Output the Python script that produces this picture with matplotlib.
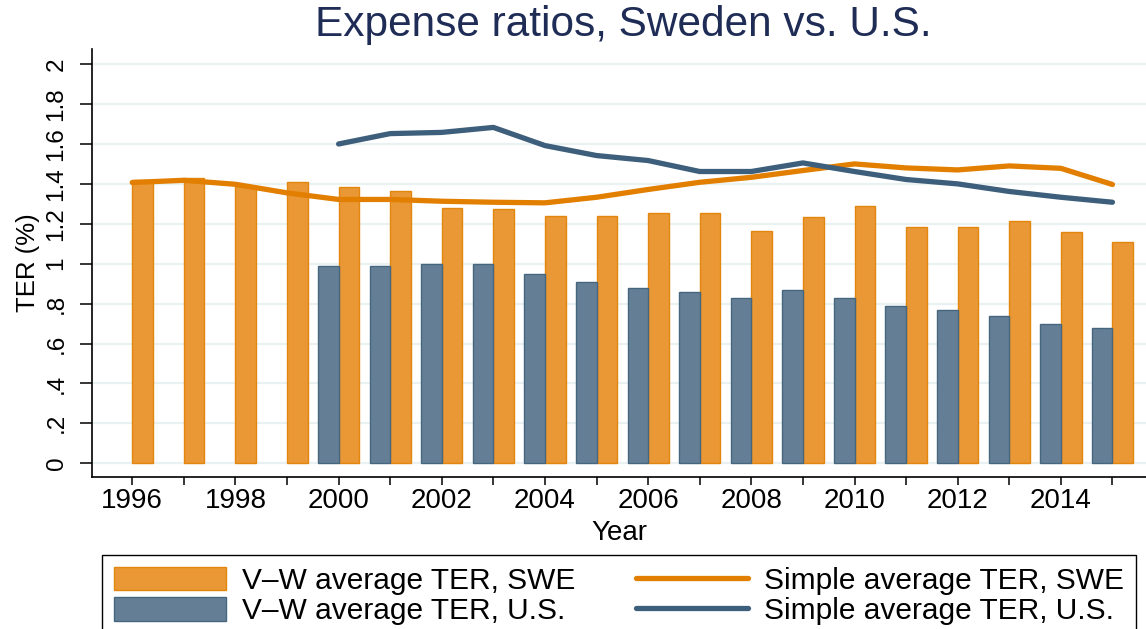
import matplotlib

matplotlib.use("Agg")
import matplotlib.pyplot as plt
import numpy as np

plt.rcParams["font.family"] = ["Liberation Sans", "DejaVu Sans"]

# data
years_swe = list(range(1996, 2016))
years_us = list(range(2000, 2016))
vw_swe = [1.42, 1.43, 1.39, 1.41, 1.385, 1.362, 1.28, 1.272, 1.24, 1.24,
          1.255, 1.255, 1.162, 1.235, 1.288, 1.182, 1.183, 1.215, 1.16, 1.11]
vw_us = [0.99, 0.99, 1.0, 1.0, 0.95, 0.91, 0.88, 0.86, 0.83, 0.87,
         0.83, 0.79, 0.77, 0.74, 0.70, 0.68]
simple_swe = [1.407, 1.418, 1.398, 1.355, 1.322, 1.322, 1.313, 1.308, 1.305,
              1.333, 1.372, 1.408, 1.433, 1.467, 1.50, 1.48, 1.47, 1.49,
              1.478, 1.397]
simple_us = [1.60, 1.652, 1.658, 1.683, 1.592, 1.542, 1.517, 1.462, 1.462,
             1.505, 1.462, 1.422, 1.40, 1.362, 1.333, 1.308]
y_ticks = [0, 0.2, 0.4, 0.6, 0.8, 1.0, 1.2, 1.4, 1.6, 1.8, 2.0]
y_tick_labels = ["0", ".2", ".4", ".6", ".8", "1", "1.2", "1.4", "1.6", "1.8", "2"]
x_tick_labels = [str(y) if y % 2 == 0 else "" for y in years_swe]
legend_labels = [
    "V\u2013W average TER, SWE",
    "V\u2013W average TER, U.S.",
    "Simple average TER, SWE",
    "Simple average TER, U.S.",
]

ORANGE_BAR = "#E99835"
ORANGE_EDGE = "#E3860F"
ORANGE_LINE = "#E27F00"
BLUE_BAR = "#647F95"
BLUE_EDGE = "#46667F"
BLUE_LINE = "#3D5F7B"
GRID = "#EAF1F3"

W, H = 1146, 629
fig = plt.figure(figsize=(W / 100, H / 100), dpi=100)
ax = fig.add_axes([92 / W, 1 - 477 / H, (W - 92) / W, (477 - 49) / H])

bar_w = 0.4
swe_bars = ax.bar(np.array(years_swe), vw_swe, width=bar_w, align="edge",
                  color=ORANGE_BAR, edgecolor=ORANGE_EDGE, linewidth=1, zorder=2)
us_bars = ax.bar(np.array(years_us), vw_us, width=-bar_w, align="edge",
                 color=BLUE_BAR, edgecolor=BLUE_EDGE, linewidth=1, zorder=2)
swe_line, = ax.plot(years_swe, simple_swe, color=ORANGE_LINE, lw=3.8,
                    solid_capstyle="round", solid_joinstyle="round", zorder=3)
us_line, = ax.plot(years_us, simple_us, color=BLUE_LINE, lw=3.8,
                   solid_capstyle="round", solid_joinstyle="round", zorder=3)

ax.set_xlim(1995.22, 2015.65)
ax.set_ylim(-0.069, 2.076)
ax.set_yticks(y_ticks)
ax.set_yticklabels(y_tick_labels, rotation=90, va="center")
ax.set_xticks(years_swe)
ax.set_xticklabels(x_tick_labels)
ax.tick_params(axis="y", length=8.6, width=1.1, pad=9, labelsize=17.5)
ax.tick_params(axis="x", length=6, width=1.1, pad=2, labelsize=20)
ax.grid(axis="y", color=GRID, lw=1.6)
ax.set_axisbelow(True)
for side in ("top", "right"):
    ax.spines[side].set_visible(False)
for side in ("left", "bottom"):
    ax.spines[side].set_linewidth(1.2)

ax.set_ylabel("TER (%)", fontsize=18.5)
ax.yaxis.set_label_coords((40 - 92) / (W - 92), 0.5)
ax.set_xlabel("Year", fontsize=20, labelpad=4)

fig.text(623 / W, 1 - 36 / H, "Expense ratios, Sweden vs. U.S.", ha="center",
         va="baseline", fontsize=30.5, color="#1F2D56")

leg = ax.legend(
    [swe_bars, us_bars, swe_line, us_line], legend_labels,
    ncol=2, loc="upper left", mode="expand",
    bbox_to_anchor=(102 / W, 0, 1034 / W, 1 - 555 / H),
    bbox_transform=fig.transFigure,
    fontsize=21.5, handlelength=3.75, handleheight=0.82, handletextpad=0.55,
    columnspacing=1.5, labelspacing=0.08, borderpad=0.4, borderaxespad=0,
    frameon=True, fancybox=False, framealpha=1,
)
leg.get_frame().set_edgecolor("black")
leg.get_frame().set_linewidth(1.0)

fig.savefig("out.png", dpi=100)
